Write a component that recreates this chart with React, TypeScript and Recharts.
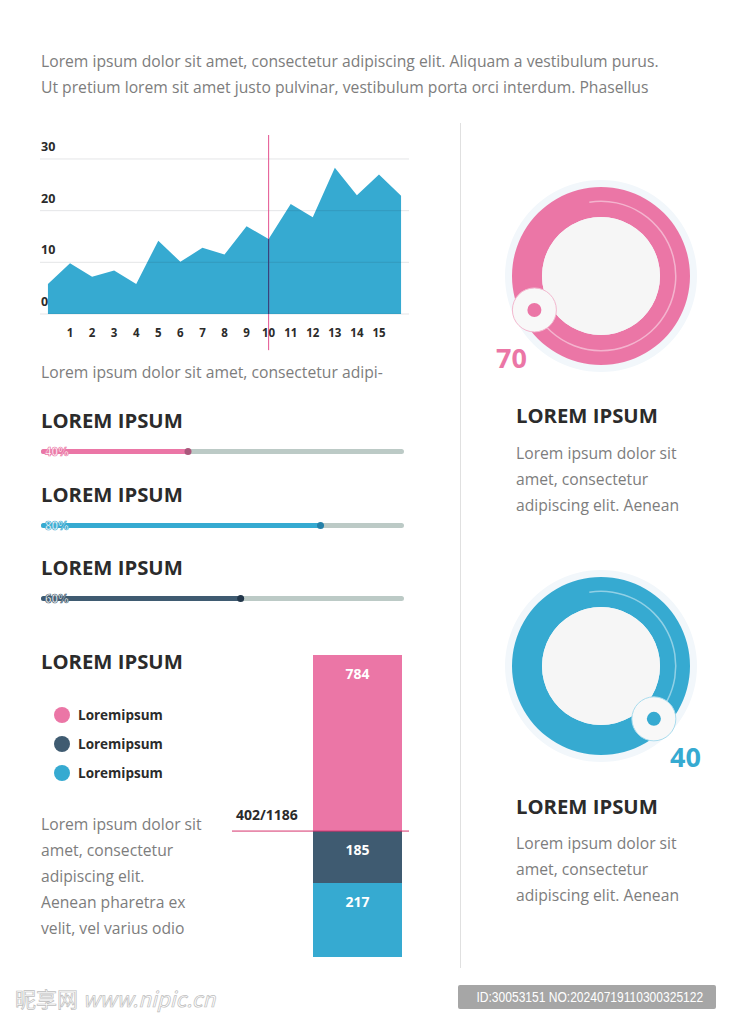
import React from "react";
import {
  Area,
  AreaChart,
  Bar,
  BarChart,
  Cell,
  LabelList,
  Legend,
  Pie,
  PieChart,
  ReferenceLine,
  XAxis,
  YAxis,
} from "recharts";

const PINK = "#eb76a6";
const BLUE = "#36aad1";
const SLATE = "#3f5b71";
const TRACK = "#bccac6";
const INK = "#2b2b2b";
const GREY = "#7d7d7d";
const FONT = "'Open Sans', sans-serif";

// area chart (steps 0 and 16 carry no tick label)
const steps = [0, 1, 2, 3, 4, 5, 6, 7, 8, 9, 10, 11, 12, 13, 14, 15, 16];
const trend = [5.8, 9.8, 7.2, 8.4, 5.8, 14.2, 10.1, 12.8, 11.5, 17, 14.5, 21.3, 18.7, 28.3, 23, 27, 22.9];
const stepTicks = [1, 2, 3, 4, 5, 6, 7, 8, 9, 10, 11, 12, 13, 14, 15];
const trendTicks = [0, 10, 20, 30];
const markerStep = 10;

// progress bars
const progressValues = [40.5, 77, 55];
const progressLabels = ["40%", "80%", "60%"];
const progressColors = [PINK, BLUE, SLATE];
const progressDots = ["#a9587c", "#2580a8", "#22364a"];

// stacked bar, bottom to top
const stackNames = ["Loremipsum", "Loremipsum", "Loremipsum"];
const stackShares = [24.5, 17.2, 58.3];
const stackLabels = ["217", "185", "784"];
const stackColors = [BLUE, SLATE, PINK];
const splitLabel = "402/1186";

// rings
const ringValues = [70, 40];
const ringLabels = ["70", "40"];

const trendData = steps.map((s, i) => ({ step: s, value: trend[i] }));
const RADIAN = Math.PI / 180;

function StepTick(props: any) {
  const { x, y, payload } = props;
  return (
    <text x={x} y={y + 15} textAnchor="middle" fontSize={11.5} fontWeight={700} fill={INK} fontFamily={FONT}>
      {payload.value}
    </text>
  );
}

function ValueTick(props: any) {
  const { y, payload } = props;
  return (
    <text x={41} y={y - 8} textAnchor="start" fontSize={12.5} fontWeight={700} fill={INK} fontFamily={FONT}>
      {payload.value}
    </text>
  );
}

function TrendChart() {
  const top = trendTicks[trendTicks.length - 1] * 1.1547;
  return (
    <AreaChart width={420} height={230} data={trendData} margin={{ top: 5, right: 11, bottom: 0, left: 0 }}>
      <XAxis
        dataKey="step"
        type="number"
        domain={[-0.36, 16.36]}
        ticks={stepTicks}
        interval={0}
        allowDataOverflow
        axisLine={false}
        tickLine={false}
        height={46}
        tick={<StepTick />}
      />
      <YAxis
        type="number"
        domain={[0, top]}
        ticks={trendTicks}
        allowDataOverflow
        width={40}
        axisLine={false}
        tickLine={false}
        tick={<ValueTick />}
      />
      <Area dataKey="value" type="linear" fill={BLUE} fillOpacity={1} stroke="none" isAnimationActive={false} />
      {trendTicks.map((t) => (
        <ReferenceLine key={t} y={t} stroke="rgba(30,40,60,0.12)" />
      ))}
      <ReferenceLine
        segment={[
          { x: markerStep, y: -7 },
          { x: markerStep, y: top },
        ]}
        stroke="#e4528f"
        ifOverflow="visible"
      />
      <ReferenceLine
        segment={[
          { x: markerStep, y: 0 },
          { x: markerStep, y: trend[markerStep] },
        ]}
        stroke="#233f78"
      />
    </AreaChart>
  );
}

function ProgressBar({ i }: { i: number }) {
  const color = progressColors[i];
  const data = [{ name: progressLabels[i], value: progressValues[i] }];
  return (
    <BarChart width={363} height={12} data={data} layout="vertical" margin={{ top: 0, right: 0, bottom: 0, left: 0 }}>
      <XAxis type="number" domain={[0, 100]} hide />
      <YAxis type="category" dataKey="name" hide />
      <Bar
        dataKey="value"
        barSize={5}
        fill={color}
        radius={2.5}
        background={{ fill: TRACK, radius: 2.5 } as any}
        isAnimationActive={false}
      >
        <LabelList
          dataKey="value"
          content={(p: any) => (
            <g>
              <text
                x={p.x + 4}
                y={p.y + p.height / 2 + 4}
                fontSize={11.5}
                fontWeight={700}
                fill="#fff"
                stroke={color}
                strokeWidth={0.7}
                fontFamily={FONT}
              >
                {progressLabels[i]}
              </text>
              <circle cx={p.x + p.width} cy={p.y + p.height / 2} r={3.5} fill={progressDots[i]} />
            </g>
          )}
        />
      </Bar>
    </BarChart>
  );
}

function StackLegend(props: any) {
  const items = [...(props.payload || [])].reverse();
  return (
    <div style={{ fontFamily: FONT }}>
      {items.map((it: any, k: number) => (
        <div key={k} style={{ display: "flex", alignItems: "center", height: 29 }}>
          <span style={{ width: 16, height: 16, borderRadius: 8, background: it.color, marginRight: 8 }} />
          <span style={{ fontSize: 13.5, fontWeight: 700, color: INK }}>{it.value}</span>
        </div>
      ))}
    </div>
  );
}

function StackChart() {
  const row: any = { name: "total" };
  stackShares.forEach((v, i) => (row[`s${i}`] = v));
  return (
    <BarChart width={380} height={330} data={[row]} margin={{ top: 15, right: 1, bottom: 13, left: 202 }} barCategoryGap={0}>
      <XAxis dataKey="name" type="category" hide padding={{ left: 81, right: 7 }} />
      <YAxis type="number" domain={[0, 100]} hide />
      <Legend
        layout="vertical"
        align="center"
        verticalAlign="middle"
        content={<StackLegend />}
        wrapperStyle={{ left: 24, top: 60, width: 160 }}
      />
      {stackColors.map((c, i) => (
        <Bar key={i} dataKey={`s${i}`} stackId="a" fill={c} name={stackNames[i]} isAnimationActive={false}>
          <LabelList
            dataKey={`s${i}`}
            content={(p: any) => (
              <text
                x={p.x + p.width / 2}
                y={p.y + 24}
                textAnchor="middle"
                fill="#fff"
                fontSize={14}
                fontWeight={700}
                fontFamily={FONT}
              >
                {stackLabels[i]}
              </text>
            )}
          />
        </Bar>
      ))}
      <ReferenceLine
        y={stackShares[0] + stackShares[1]}
        stroke="#d6336c"
        label={(p: any) => (
          <text x={p.viewBox.x + 4} y={p.viewBox.y - 11} fontSize={14} fontWeight={700} fill={INK} fontFamily={FONT}>
            {splitLabel}
          </text>
        )}
      />
    </BarChart>
  );
}

function Ring({ i }: { i: number }) {
  const color = stackColors[i === 0 ? 2 : 0];
  const rim = i === 0 ? "#f3b8cf" : "#a9dcee";
  const full = [{ v: 1 }];
  const arc = [{ v: ringValues[i] }, { v: 100 - ringValues[i] }];
  const knob = (p: any) => {
    if (p.index !== 0) return null;
    const r = 74.75;
    const x = p.cx + r * Math.cos(-p.endAngle * RADIAN);
    const y = p.cy + r * Math.sin(-p.endAngle * RADIAN);
    return (
      <g>
        <circle cx={x} cy={y} r={22} fill="#f8f8f8" stroke={rim} strokeWidth={1} />
        <circle cx={x} cy={y} r={7} fill={color} />
      </g>
    );
  };
  return (
    <PieChart width={200} height={200} margin={{ top: 0, right: 0, bottom: 0, left: 0 }}>
      <Pie data={full} dataKey="v" cx={101} cy={100} innerRadius={0} outerRadius={96} fill="#f2f7fb" stroke="none" isAnimationActive={false} />
      <Pie data={full} dataKey="v" cx={101} cy={100} innerRadius={59} outerRadius={89} fill={color} stroke="none" isAnimationActive={false} />
      <Pie data={full} dataKey="v" cx={101} cy={100} innerRadius={0} outerRadius={59} fill="#f6f6f6" stroke="none" isAnimationActive={false} />
      <Pie
        data={arc}
        dataKey="v"
        cx={101}
        cy={100}
        startAngle={99}
        endAngle={-261}
        innerRadius={74}
        outerRadius={75.5}
        stroke="none"
        label={knob}
        labelLine={false}
        isAnimationActive={false}
      >
        <Cell fill="rgba(255,255,255,0.45)" />
        <Cell fill="transparent" />
      </Pie>
    </PieChart>
  );
}

const abs = (left: number, top: number, extra: React.CSSProperties = {}): React.CSSProperties => ({
  position: "absolute",
  left,
  top,
  ...extra,
});

const body: React.CSSProperties = { fontSize: 15.7, lineHeight: "26px", color: GREY, fontFamily: FONT, whiteSpace: "nowrap" };
const head: React.CSSProperties = { fontSize: 20.3, lineHeight: "24px", color: INK, fontFamily: FONT, fontWeight: 700, whiteSpace: "nowrap" };

export default function App() {
  return (
    <div style={{ position: "absolute", left: 0, top: 0, width: 732, height: 1024, background: "#fff", overflow: "hidden" }}>
      <div style={abs(41, 48, body)}>
        Lorem ipsum dolor sit amet, consectetur adipiscing elit. Aliquam a vestibulum purus.
        <br />
        Ut pretium lorem sit amet justo pulvinar, vestibulum porta orci interdum. Phasellus
      </div>

      <div style={abs(0, 130)}>
        <TrendChart />
      </div>
      <div style={abs(41, 359, body)}>Lorem ipsum dolor sit amet, consectetur adipi-</div>

      {[408, 482, 555].map((t, i) => (
        <React.Fragment key={i}>
          <div style={abs(41, t, head)}>LOREM IPSUM</div>
          <div style={abs(41, t + 37)}>
            <ProgressBar i={i} />
          </div>
        </React.Fragment>
      ))}

      <div style={abs(41, 649, head)}>LOREM IPSUM</div>
      <div style={abs(30, 640)}>
        <StackChart />
      </div>
      <div style={abs(41, 811, body)}>
        Lorem ipsum dolor sit
        <br />
        amet, consectetur
        <br />
        adipiscing elit.
        <br />
        Aenean pharetra ex
        <br />
        velit, vel varius odio
      </div>

      <div style={abs(460, 123, { width: 1, height: 845, background: "#e0e0e0" })} />

      <div style={abs(500, 176)}>
        <Ring i={0} />
      </div>
      <div style={abs(496, 342, { ...head, fontSize: 27, lineHeight: "32px", color: PINK })}>{ringLabels[0]}</div>
      <div style={abs(516, 403, head)}>LOREM IPSUM</div>
      <div style={abs(516, 440, body)}>
        Lorem ipsum dolor sit
        <br />
        amet, consectetur
        <br />
        adipiscing elit. Aenean
      </div>

      <div style={abs(500, 566)}>
        <Ring i={1} />
      </div>
      <div style={abs(670, 741, { ...head, fontSize: 27, lineHeight: "32px", color: BLUE })}>{ringLabels[1]}</div>
      <div style={abs(516, 794, head)}>LOREM IPSUM</div>
      <div style={abs(516, 830, body)}>
        Lorem ipsum dolor sit
        <br />
        amet, consectetur
        <br />
        adipiscing elit. Aenean
      </div>

      <div
        style={abs(15, 983, {
          fontSize: 21,
          fontFamily: "'Noto Sans CJK SC', sans-serif",
          color: "#fff",
          WebkitTextStroke: "0.7px #bdbdbd",
          whiteSpace: "nowrap",
        } as React.CSSProperties)}
      >
        昵享网 <i>www.nipic.cn</i>
      </div>
      <div
        style={abs(458, 985, {
          width: 258,
          height: 24,
          lineHeight: "24px",
          background: "#a6a6a6",
          borderRadius: 2,
          color: "#fff",
          fontSize: 14,
          textAlign: "center",
          fontFamily: "'Liberation Sans', sans-serif",
          whiteSpace: "nowrap",
          overflow: "hidden",
        })}
      >
        <span style={{ display: "inline-block", transform: "scaleX(0.86)", transformOrigin: "center" }}>
          ID:30053151 NO:20240719110300325122
        </span>
      </div>
    </div>
  );
}
